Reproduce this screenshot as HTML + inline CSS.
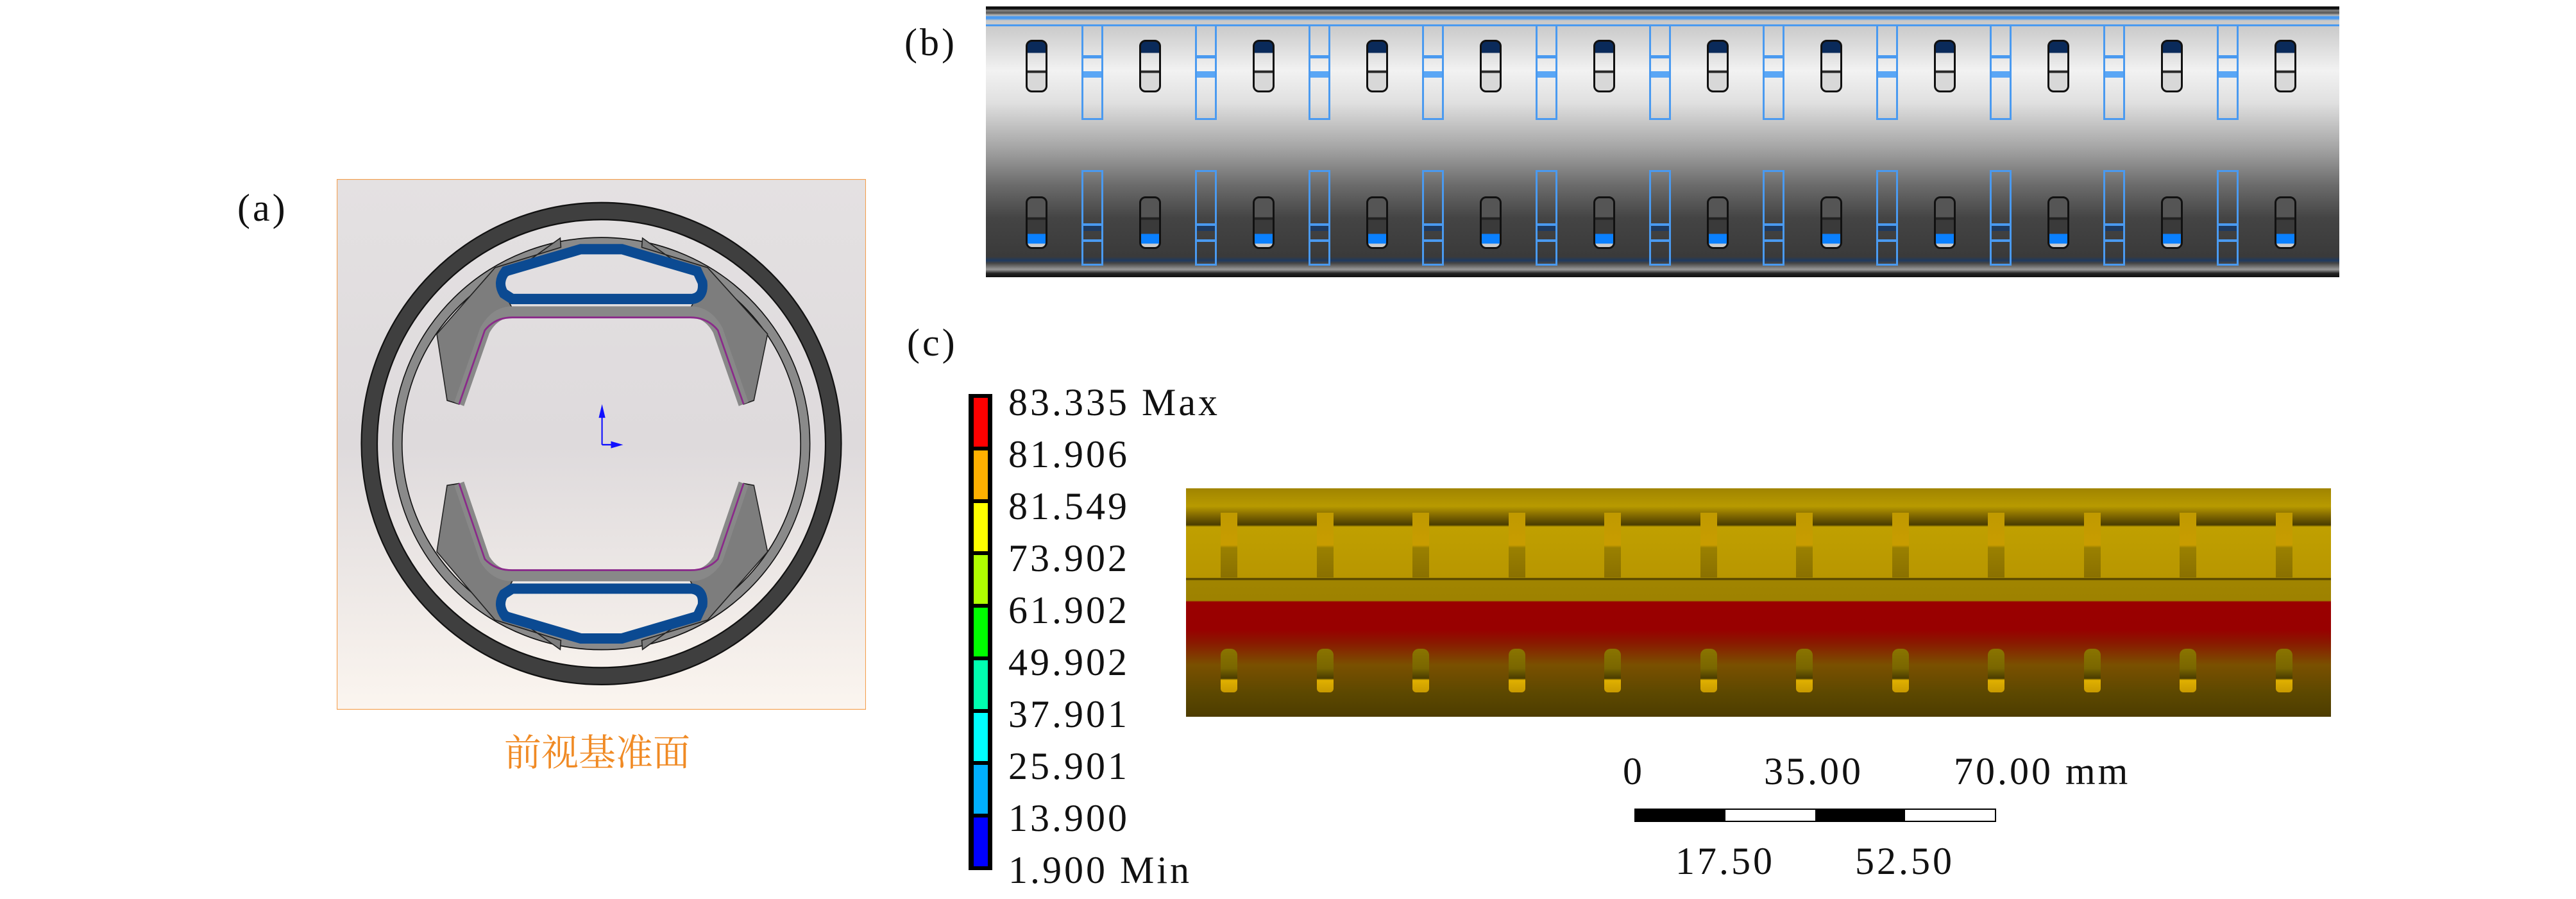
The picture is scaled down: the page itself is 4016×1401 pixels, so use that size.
<!DOCTYPE html>
<html><head><meta charset="utf-8"><style>
body{margin:0;background:#fff;width:4016px;height:1401px;overflow:hidden;position:relative;font-family:"Liberation Serif",serif}
.abs{position:absolute}
.lbl{font-size:60px;color:#111;white-space:nowrap;letter-spacing:4px}
</style></head><body>
<div class="abs lbl" style="left:370px;top:290px">(a)</div>
<div class="abs lbl" style="left:1410px;top:32px">(b)</div>
<div class="abs lbl" style="left:1414px;top:500px">(c)</div>

<svg class="abs" style="left:525px;top:279px" width="825" height="827" viewBox="8 20 1544 1438" preserveAspectRatio="none">
<defs><linearGradient id="bga" x1="0" y1="0" x2="0" y2="1"><stop offset="0" stop-color="#e4e1e2"/><stop offset="0.5" stop-color="#dedadc"/><stop offset="1" stop-color="#fbf5ef"/></linearGradient></defs>
<rect x="8" y="20" width="1544" height="1438" fill="url(#bga)" stroke="#f5a050" stroke-width="4"/>
<ellipse cx="780" cy="737" rx="677" ry="630" fill="none" stroke="#111" stroke-width="50"/>
<ellipse cx="780" cy="737" rx="677" ry="630" fill="none" stroke="#3f3f3f" stroke-width="42"/>
<ellipse cx="780" cy="737" rx="595" ry="545" fill="none" stroke="#111" stroke-width="30"/>
<ellipse cx="780" cy="737" rx="595" ry="545" fill="none" stroke="#8a8a8a" stroke-width="24"/>
<g fill="#7d7d7d" stroke="#222" stroke-width="3">
<path d="M660 180 L662 205 L470 260 L300 440 L330 620 L365 630 L440 420 L520 370 L480 300 Z"/>
<path d="M900 180 L898 205 L1090 260 L1265 440 L1225 620 L1195 630 L1120 420 L1040 370 L1080 300 Z"/>
<path d="M660 1295 L662 1270 L470 1215 L300 1030 L330 850 L365 845 L440 1055 L520 1110 L480 1175 Z"/>
<path d="M900 1295 L898 1270 L1090 1215 L1265 1030 L1225 850 L1195 845 L1120 1055 L1040 1110 L1080 1175 Z"/>
</g>
<path d="M365 630 L440 430 Q470 380 520 380 L1040 380 Q1090 380 1120 430 L1195 630 M365 845 L440 1050 Q470 1095 520 1095 L1040 1095 Q1090 1095 1120 1050 L1195 845" fill="none" stroke="#888" stroke-width="30"/>
<path d="M365 630 L440 430 Q470 395 520 395 L1040 395 Q1090 395 1120 430 L1195 630 M365 845 L440 1050 Q470 1080 520 1080 L1040 1080 Q1090 1080 1120 1050 L1195 845" fill="none" stroke="#8a2a8a" stroke-width="5"/>
<path d="M520 345 L1045 345 Q1080 340 1075 300 L1060 270 L840 210 L720 210 L500 270 Q475 300 495 330 Z" fill="none" stroke="#0b4a92" stroke-width="28"/>
<path d="M520 1130 L1045 1130 Q1080 1135 1075 1175 L1060 1205 L840 1265 L720 1265 L500 1205 Q475 1175 495 1145 Z" fill="none" stroke="#0b4a92" stroke-width="28"/>
<g stroke="#1010ff" stroke-width="4" fill="#1010ff"><line x1="782" y1="660" x2="782" y2="740"/><line x1="782" y1="740" x2="815" y2="740"/><path d="M775 665 L782 638 L789 665 Z"/><path d="M810 733 L836 740 L810 747 Z"/></g>
</svg>
<div class="abs" style="left:786px;top:1126px;font-family:'Liberation Serif','Noto Serif CJK SC',serif;font-size:58px;color:#f08a24">前视基准面</div>

<div class="abs" id="tube" style="left:1537px;top:10px;width:2110px;height:422px;background:linear-gradient(#111 0,#111 4px,#888 6px,#555 10px,#bbb 14px,#4a9af0 16px,#4a9af0 19px,#c8c8c8 22px,#cfcfcf 40px,#f2f2f2 100px,#e0e0e0 150px,#a5a5a5 220px,#6a6a6a 280px,#444 330px,#3a3a3a 390px,#1e3a60 396px,#444 400px,#999 410px,#222 416px,#111 422px);overflow:hidden">
<div class="abs" style="left:0;top:28px;width:100%;height:3px;background:#4a9af0"></div>
</div>

<div class="abs" id="contour" style="left:1849px;top:761px;width:1785px;height:356px;overflow:hidden;background:linear-gradient(#a08400 0,#b89a00 28px,#8a7000 40px,#4a3c00 57px,#c0a000 60px,#b89600 139px,#3c3000 141px,#a08400 144px,#9e8200 175px,#9a0000 177px,#980000 220px,#8a1800 240px,#7a5000 275px,#5c4800 320px,#4d3c00 356px)">
</div>

<div class="abs" id="cbar" style="left:1510px;top:614px;width:37px;height:742px;background:#000"></div>

<div class="abs" style="left:2548px;top:1260px;width:564px;height:21px;border:2px solid #000;box-sizing:border-box;background:linear-gradient(90deg,#000 25%,#fff 25%,#fff 50%,#000 50%,#000 75%,#fff 75%)"></div>
<div class="abs lbl" style="left:2530px;top:1168px">0</div>
<div class="abs lbl" style="left:2750px;top:1168px">35.00</div>
<div class="abs lbl" style="left:3046px;top:1168px">70.00 mm</div>
<div class="abs lbl" style="left:2612px;top:1308px">17.50</div>
<div class="abs lbl" style="left:2892px;top:1308px">52.50</div>

<script>
const legendValues=["83.335 Max","81.906","81.549","73.902","61.902","49.902","37.901","25.901","13.900","1.900 Min"];
const legendColors=["#ff0000","#ffb000","#ffff00","#b0ff00","#00ff00","#00ffb0","#00ffff","#00b0ff","#0000ff"];
const tubeSlotCount=12, tubeRectCount=11, contourRibCount=12;

const cbar=document.getElementById('cbar');
const segH=(742-6)/legendColors.length;
legendColors.forEach((c,i)=>{
  const d=document.createElement('div');
  
  
  d.className='abs';
  d.style.cssText=`left:8px;top:${6+i*segH}px;width:22px;height:${segH-6}px;background:${c}`;
  cbar.appendChild(d);
});
legendValues.forEach((v,i)=>{
  const t=document.createElement('div');
  
  
  t.className='abs lbl';
  t.style.cssText=`left:1572px;top:${593+i*81}px`;
  t.textContent=v;
  document.body.appendChild(t);
});

const tube=document.getElementById('tube');
for(let i=0;i<tubeSlotCount;i++){
  const x=79+i*177;
  const a=document.createElement('div');
  
  
  a.className='abs';
  a.style.cssText=`left:${x-17}px;top:52px;width:28px;height:76px;border:3px solid #111;border-radius:10px;background:linear-gradient(#0a2a5a 0,#0a2a5a 22%,#ddd 24%,#f0f0f0 58%,#222 60%,#222 63%,#d8d8d8 65%)`;
  tube.appendChild(a);
  const b=document.createElement('div');
  
  
  b.className='abs';
  b.style.cssText=`left:${x-17}px;top:296px;width:28px;height:76px;border:3px solid #111;border-radius:10px;background:linear-gradient(#555 0,#555 38%,#222 40%,#222 43%,#3a3a3a 45%,#3a3a3a 72%,#0a80ff 74%,#0a80ff 92%,#ccc 94%)`;
  tube.appendChild(b);
}
for(let i=0;i<tubeRectCount;i++){
  const x=166+i*177;
  const a=document.createElement('div');
  
  
  a.className='abs';
  a.style.cssText=`left:${x-17}px;top:28px;width:28px;height:143px;border:3px solid #4a9af0;background:linear-gradient(transparent 0,transparent 45px,#4a9af0 45px,#4a9af0 50px,transparent 50px,transparent 70px,#5aa6f5 70px,#5aa6f5 80px,transparent 80px)`;
  tube.appendChild(a);
  const b=document.createElement('div');
  
  
  b.className='abs';
  b.style.cssText=`left:${x-17}px;top:255px;width:28px;height:143px;border:3px solid #4a9af0;background:linear-gradient(transparent 0,transparent 80px,#4a9af0 80px,#4a9af0 84px,#1e3a60 84px,#1e3a60 92px,transparent 92px,transparent 105px,#4a9af0 105px,#4a9af0 109px,transparent 109px)`;
  tube.appendChild(b);
}

const contour=document.getElementById('contour');
for(let i=0;i<contourRibCount;i++){
  const x=67+i*149.5;
  const r=document.createElement('div');
  
  
  r.className='abs';
  r.style.cssText=`left:${x-13}px;top:38px;width:26px;height:101px;background:linear-gradient(#c09a00 0,#c89c00 50%,#9a8000 54%,#8a7000 100%)`;
  contour.appendChild(r);
  const h=document.createElement('div');
  
  
  h.className='abs';
  h.style.cssText=`left:${x-13}px;top:250px;width:26px;height:68px;border-radius:10px 10px 6px 6px;background:linear-gradient(#8a7400 0,#7a6600 45%,#4a3c00 68%,#e0b000 72%,#c89a00 100%)`;
  contour.appendChild(h);
}
</script>
</body></html>
